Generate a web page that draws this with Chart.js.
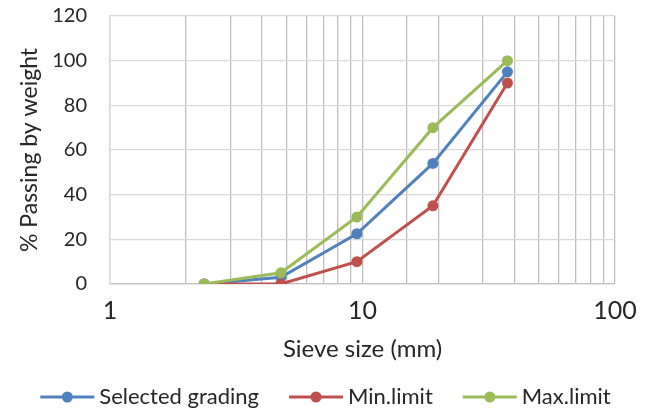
<!DOCTYPE html>
<html>
<head>
<meta charset="utf-8">
<script src="https://cdn.jsdelivr.net/npm/chart.js@4"></script>
<style>
  html, body { margin: 0; padding: 0; background: #fff; }
  #wrap { width: 651px; height: 414px; }
</style>
</head>
<body>
<div id="wrap"><canvas id="gradingChart" width="651" height="414"></canvas></div>
<script>
// sieve sizes (mm) and passing percentages
const sieveSizes = [2.36, 4.75, 9.5, 19, 37.5];
const selectedGrading = [0, 3, 22.5, 54, 95];
const minLimit = [0, 0, 10, 35, 90];
const maxLimit = [0, 5, 30, 70, 100];
const seriesNames = ['Selected grading', 'Min.limit', 'Max.limit'];
const xTickLabels = [1, 10, 100];

const colors = ['#4f81bd', '#c0504d', '#9bbb59'];
const textColor = '#262626';
const fontFamily = 'Lato, "Open Sans", sans-serif';

const toPoints = (values) => values.map((v, i) => ({ x: sieveSizes[i], y: v }));

const makeSeries = (name, values, color, order) => ({
  label: name,
  data: toPoints(values),
  borderColor: color,
  backgroundColor: color,
  borderWidth: 3,
  pointRadius: 5.5,
  pointHoverRadius: 5.5,
  pointBorderWidth: 0,
  pointBackgroundColor: color,
  tension: 0,
  order: order // green drawn last (on top), like excel
});

// legend drawn by hand: line + dot, then text
const lineLegend = {
  id: 'lineLegend',
  afterDraw(chart) {
    const { ctx } = chart;
    const lineLen = 54, gap = 5, itemGap = 30, y = 397;
    ctx.save();
    ctx.font = '22px ' + fontFamily;
    ctx.textBaseline = 'middle';
    const widths = seriesNames.map((n) => ctx.measureText(n).width);
    const total = widths.reduce((s, w) => s + lineLen + gap + w, 0) + itemGap * (seriesNames.length - 1);
    let x = (chart.width - total) / 2;
    seriesNames.forEach((name, i) => {
      ctx.strokeStyle = colors[i];
      ctx.lineWidth = 3;
      ctx.beginPath();
      ctx.moveTo(x, y);
      ctx.lineTo(x + lineLen, y);
      ctx.stroke();
      ctx.fillStyle = colors[i];
      ctx.beginPath();
      ctx.arc(x + lineLen / 2, y, 5.5, 0, Math.PI * 2);
      ctx.fill();
      ctx.fillStyle = textColor;
      ctx.textAlign = 'left';
      ctx.fillText(name, x + lineLen + gap, y);
      x += lineLen + gap + widths[i] + itemGap;
    });
    ctx.restore();
  }
};

new Chart(document.getElementById('gradingChart'), {
  type: 'line',
  data: {
    datasets: [
      makeSeries(seriesNames[0], selectedGrading, colors[0], 3),
      makeSeries(seriesNames[1], minLimit, colors[1], 2),
      makeSeries(seriesNames[2], maxLimit, colors[2], 1)
    ]
  },
  options: {
    responsive: false,
    animation: false,
    layout: { padding: { top: 16, right: 36, bottom: 44, left: 0 } },
    plugins: {
      legend: { display: false },
      tooltip: { enabled: false }
    },
    scales: {
      x: {
        type: 'logarithmic',
        min: 1,
        max: 100,
        afterFit: (scale) => { scale.height = 86; },
        grid: { color: '#bfbfbf', lineWidth: 1.3, drawTicks: false },
        border: { color: '#bfbfbf', width: 1.3 },
        ticks: {
          autoSkip: false,
          maxRotation: 0,
          padding: 12,
          color: textColor,
          font: { family: fontFamily, size: 25 },
          callback: (value) => (xTickLabels.includes(value) ? String(value) : '')
        },
        title: {
          display: true,
          text: 'Sieve size (mm)',
          color: textColor,
          font: { family: fontFamily, size: 24 },
          padding: { top: 6, bottom: 6 }
        }
      },
      y: {
        min: 0,
        max: 120,
        afterFit: (scale) => {
          scale.width = 110;
          // tick padding would otherwise push the plot down
          scale.paddingTop = 0;
          scale.paddingBottom = 0;
        },
        grid: { color: '#d9d9d9', lineWidth: 1.3, drawTicks: false },
        border: { color: '#d9d9d9', width: 1.3 },
        ticks: {
          stepSize: 20,
          padding: 23,
          color: textColor,
          font: { family: fontFamily, size: 20 }
        },
        title: {
          display: true,
          text: '% Passing by weight',
          color: textColor,
          font: { family: fontFamily, size: 23 },
          padding: { top: 16, bottom: 16 }
        }
      }
    }
  },
  plugins: [lineLegend]
});
</script>
</body>
</html>
